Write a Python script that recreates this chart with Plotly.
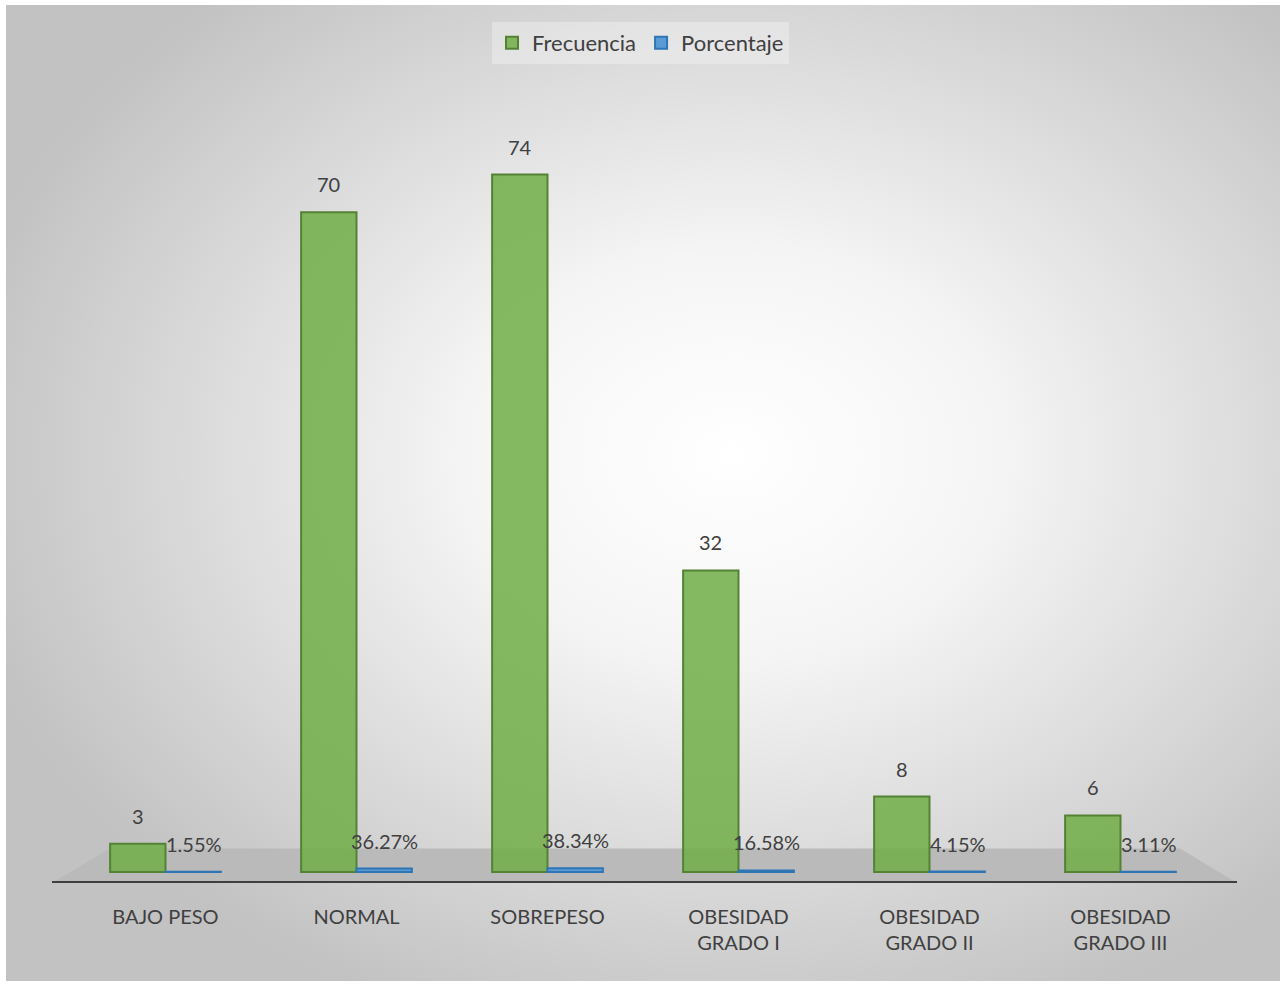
import plotly.graph_objects as go
import base64

categories = ["BAJO PESO", "NORMAL", "SOBREPESO", "OBESIDAD<br>GRADO I", "OBESIDAD<br>GRADO II", "OBESIDAD<br>GRADO III"]
frecuencia = [3, 70, 74, 32, 8, 6]
porcentaje = [0.0155, 0.3627, 0.3834, 0.1658, 0.0415, 0.0311]
porcentaje_labels = ["1.55%", "36.27%", "38.34%", "16.58%", "4.15%", "3.11%"]

FONT = "Lato"
TXT = "#404040"

svg = """<svg xmlns='http://www.w3.org/2000/svg' width='1274' height='976' viewBox='0 0 1274 976'>
<defs><radialGradient id='g' cx='0.57' cy='0.46' r='0.62' gradientUnits='objectBoundingBox'>
<stop offset='0' stop-color='#ffffff'/><stop offset='0.33' stop-color='#f5f5f5'/>
<stop offset='1' stop-color='#c2c2c2'/></radialGradient></defs>
<rect width='1274' height='976' fill='url(#g)'/></svg>"""
bg_src = "data:image/svg+xml;base64," + base64.b64encode(svg.encode()).decode()

fig = go.Figure()
fig.add_trace(go.Bar(
    name="Frecuencia", x=categories, y=frecuencia,
    marker=dict(color="rgba(112,173,71,0.85)", line=dict(color="#548235", width=2)),
    cliponaxis=False,
))
fig.add_trace(go.Bar(
    name="Porcentaje", x=categories, y=porcentaje,
    marker=dict(color="#5B9BD5", line=dict(color="#2E75B6", width=2)),
    cliponaxis=False,
))

W, H = 1281, 984
L, R, T, B = 70, 65, 118, 101

# data labels
for cat, v in zip(categories, frecuencia):
    fig.add_annotation(x=cat, y=v, text=str(v), showarrow=False, xref="x", yref="y",
                       xshift=-28, yshift=14, yanchor="bottom",
                       font=dict(family=FONT, size=20, color=TXT))
for cat, v, lab in zip(categories, porcentaje, porcentaje_labels):
    fig.add_annotation(x=cat, y=v, text=lab, showarrow=False, xref="x", yref="y",
                       xshift=28, yshift=14, yanchor="bottom",
                       font=dict(family=FONT, size=20, color=TXT))

def px(xp):
    return (xp - L) / (W - L - R)

# floor (decorative)
fig.add_shape(type="path", xref="paper", yref="y", layer="below",
              path=f"M {px(52)} -1.17 L {px(1237)} -1.17 L {px(1180)} 2.5 L {px(110)} 2.5 Z",
              fillcolor="#bababa", line=dict(width=0))

fig.update_layout(
    width=W, height=H,
    margin=dict(l=L, r=R, t=T, b=B),
    paper_bgcolor="white", plot_bgcolor="rgba(0,0,0,0)",
    barmode="group", bargap=0.42, bargroupgap=0,
    font=dict(family=FONT, size=20, color=TXT),
    showlegend=True,
    legend=dict(orientation="h", x=0.5, xanchor="center", xref="container",
                y=1 - 22 / H, yanchor="top", yref="container",
                bgcolor="rgba(255,255,255,0.3)",
                font=dict(family=FONT, size=22, color=TXT),
                itemwidth=30),
    xaxis=dict(showgrid=False, showline=False, ticks="", ticklabelstandoff=20,
               tickfont=dict(family=FONT, size=20, color=TXT), zeroline=False),
    yaxis=dict(visible=False, range=[-1.17, 80], showgrid=False, zeroline=False),
    images=[dict(source=bg_src, xref="paper", yref="paper", layer="below",
                 x=(6 - L) / (W - L - R), y=1 + (T - 5) / (H - T - B),
                 sizex=1274 / (W - L - R), sizey=976 / (H - T - B),
                 xanchor="left", yanchor="top", sizing="stretch")],
)
# axis baseline
fig.add_shape(type="line", xref="paper", yref="y", x0=px(52), x1=px(1237), y0=-1.17, y1=-1.17,
              line=dict(color="#3f3f3f", width=4))

fig.write_html("out.html", config={"displayModeBar": False},
               post_script="document.body.style.margin='0';")
